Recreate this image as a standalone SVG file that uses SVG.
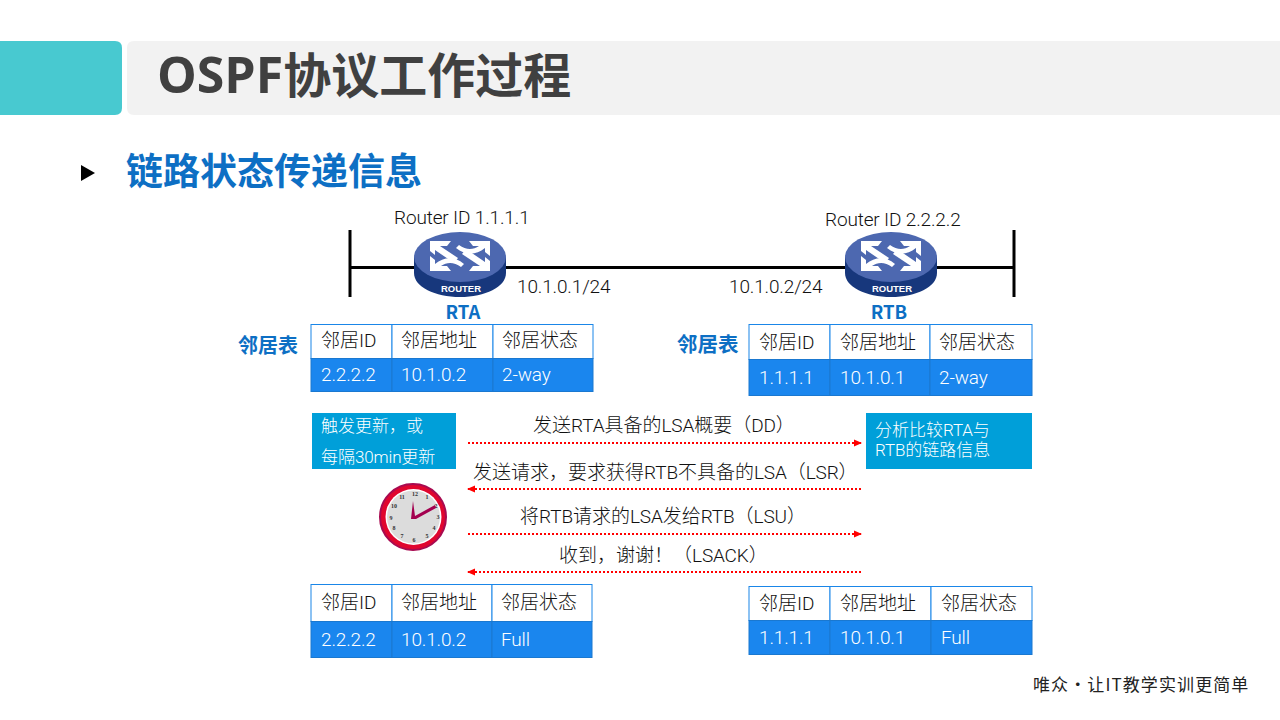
<svg xmlns="http://www.w3.org/2000/svg" xmlns:xlink="http://www.w3.org/1999/xlink" width="1280" height="720" viewBox="0 0 1280 720">
<style>
text{font-family:Roboto,"Noto Sans CJK SC",sans-serif;fill:#111;font-size:19px;font-weight:300;letter-spacing:-.15px}
tspan{letter-spacing:0}
.title{font-family:"Open Sans","Noto Sans CJK SC",sans-serif;font-size:48px;font-weight:700;fill:#404040;letter-spacing:0}
.h{font-family:"Noto Sans CJK SC",sans-serif;font-size:37px;font-weight:700;fill:#0d6fc4;letter-spacing:0}
.b{font-family:"Noto Sans CJK SC",sans-serif;font-weight:700;fill:#0d6fc4;font-size:20px;letter-spacing:0}
.r{font-size:18.500px}
.w{fill:#fff}
.s{font-size:17px}
.hd{fill:#fff;stroke:#1a86e8;stroke-width:1}
.bd{fill:#1a86ee;stroke:#1a78d0;stroke-width:1}
.box{fill:#009fd9}
.dot{fill:none;stroke:#f00;stroke-width:2;stroke-dasharray:2 2}
.bus{stroke:#000;stroke-width:3;fill:none}
.arr{fill:#fff}
.num{font-family:"Liberation Serif",serif;font-size:6px;font-weight:700;fill:#333;text-anchor:middle;letter-spacing:0}
</style>
<defs>
<marker id="ah" markerUnits="userSpaceOnUse" markerWidth="8" markerHeight="8" refX="7" refY="4" orient="auto"><path d="M0 0.500L8 4L0 7.500Z" fill="#f00"/></marker>
<path id="a1" class="arr" d="M-30 -25H-9L-13 -20H-20L-2 -8L-6 -3L-25 -16V-11L-30 -15Z"/>
<path id="a2" class="arr" d="M30 -25V-10L25 -14V-18C16 -11 6 -10 -4 -18L-1 -21C6 -16 13 -16 19 -20H13L9 -25Z"/>
<g id="router">
<path d="M-46 -9V7C-46 21-25 31 0 31S46 21 46 7V-9Z" fill="#17377c"/>
<ellipse cx="0" cy="-9" rx="46" ry="25" fill="#4d68b0"/>
<use xlink:href="#a1" href="#a1"/>
<use xlink:href="#a2" href="#a2"/>
<use xlink:href="#a1" href="#a1" transform="rotate(180 0 -10)"/>
<use xlink:href="#a2" href="#a2" transform="rotate(180 0 -10)"/>
<text x="1" y="26" text-anchor="middle" style="font-family:'Liberation Sans',sans-serif;font-size:9.500px;font-weight:700;fill:#fff;letter-spacing:0">ROUTER</text>
</g>
</defs>

<g id="header">
<path d="M0 41H115Q122 41 122 48V108Q122 115 115 115H0Z" fill="#48c9d0"/>
<path d="M1280 41H134Q127 41 127 48V108Q127 115 134 115H1280Z" fill="#f2f2f2"/>
<text class="title" x="157" y="93"><tspan style="font-size:50px">OSPF</tspan>协议工作过程</text>
</g>
<g id="heading">
<path d="M81 165L95 173L81 181Z" fill="#000"/>
<text class="h" x="126" y="185">链路状态传递信息</text>
</g>

<g id="connectors">
<path class="bus" d="M350 230V297M1014 230V297M350 267.500H1014"/>
<path class="dot" d="M468 443H861" marker-end="url(#ah)"/>
<path class="dot" d="M861 489H468" marker-end="url(#ah)"/>
<path class="dot" d="M468 534H861" marker-end="url(#ah)"/>
<path class="dot" d="M861 572H468" marker-end="url(#ah)"/>
</g>

<g id="rta">
<use xlink:href="#router" href="#router" x="460" y="266"/>
<text x="394" y="224">Router ID 1.1.1.1</text>
<text class="b r" x="463" y="319" text-anchor="middle">RTA</text>
</g>
<g id="rtb">
<use xlink:href="#router" href="#router" x="891" y="266"/>
<text x="825" y="226">Router ID 2.2.2.2</text>
<text class="b r" x="889" y="319" text-anchor="middle">RTB</text>
</g>
<g id="ip-labels">
<text x="517" y="293">10.1.0.1/24</text>
<text x="729" y="293">10.1.0.2/24</text>
</g>

<g id="table-a1">
<text class="b" x="238" y="353">邻居表</text>
<rect class="hd" x="311" y="324.500" width="81" height="34"/><rect class="hd" x="392" y="324.500" width="101" height="34"/><rect class="hd" x="493" y="324.500" width="100" height="34"/>
<rect class="bd" x="311" y="358.500" width="81" height="33"/><rect class="bd" x="392" y="358.500" width="101" height="33"/><rect class="bd" x="493" y="358.500" width="100" height="33"/>
<text x="321" y="347"><tspan>邻居</tspan>ID</text><text x="401" y="347"><tspan>邻居地址</tspan></text><text x="502" y="347"><tspan>邻居状态</tspan></text>
<text class="w" x="321" y="381">2.2.2.2</text><text class="w" x="401" y="381">10.1.0.2</text><text class="w" x="502" y="381">2-way</text>
</g>
<g id="table-b1">
<text class="b" x="677" y="352" style="font-size:20.500px">邻居表</text>
<rect class="hd" x="749" y="324.500" width="81" height="35"/><rect class="hd" x="830" y="324.500" width="100" height="35"/><rect class="hd" x="930" y="324.500" width="102" height="35"/>
<rect class="bd" x="749" y="359.500" width="81" height="36"/><rect class="bd" x="830" y="359.500" width="100" height="36"/><rect class="bd" x="930" y="359.500" width="102" height="36"/>
<text x="759" y="349"><tspan>邻居</tspan>ID</text><text x="840" y="349"><tspan>邻居地址</tspan></text><text x="939" y="349"><tspan>邻居状态</tspan></text>
<text class="w" x="759" y="384">1.1.1.1</text><text class="w" x="840" y="384">10.1.0.1</text><text class="w" x="939" y="384">2-way</text>
</g>

<g id="trigger">
<rect class="box" x="312" y="413" width="144" height="56"/>
<text class="w s" x="321" y="432"><tspan>触发更新，或</tspan></text>
<text class="w s" x="321" y="463"><tspan>每隔</tspan>30min<tspan>更新</tspan></text>
</g>
<g id="analyze">
<rect class="box" x="866" y="413" width="166" height="56"/>
<text class="w s" x="875" y="436"><tspan>分析比较</tspan>RTA<tspan>与</tspan></text>
<text class="w s" x="875" y="456">RTB<tspan>的链路信息</tspan></text>
</g>

<g id="messages">
<text x="533" y="432"><tspan>发送</tspan>RTA<tspan>具备的</tspan>LSA<tspan>概要（</tspan>DD<tspan>）</tspan></text>
<text x="473" y="479"><tspan>发送请求，要求获得</tspan>RTB<tspan>不具备的</tspan>LSA<tspan>（</tspan>LSR<tspan>）</tspan></text>
<text x="520" y="523"><tspan>将</tspan>RTB<tspan>请求的</tspan>LSA<tspan>发给</tspan>RTB<tspan>（</tspan>LSU<tspan>）</tspan></text>
<text x="559" y="562"><tspan>收到，谢谢！（</tspan>LSACK<tspan>）</tspan></text>
</g>

<g id="clock">
<circle cx="413" cy="517" r="33" fill="#e0062f" stroke="#a80a50" stroke-width="2"/>
<circle cx="413.500" cy="517" r="28" fill="#fff"/>
<circle cx="413.500" cy="517" r="26.500" fill="#dcdcdc"/>
<text class="num" x="415" y="496">12</text><text class="num" x="427" y="499">1</text><text class="num" x="436" y="508">2</text><text class="num" x="438" y="519">3</text><text class="num" x="434" y="530">4</text><text class="num" x="427" y="538">5</text><text class="num" x="414" y="542">6</text><text class="num" x="402" y="538">7</text><text class="num" x="394" y="530">8</text><text class="num" x="391" y="520">9</text><text class="num" x="394" y="508">10</text><text class="num" x="402" y="499">11</text>
<path d="M413 501L415 516L435 505L436 508L416 519L411 519Z" fill="#a3004f"/>
</g>

<g id="table-a2">
<rect class="hd" x="311" y="584.500" width="81" height="37"/><rect class="hd" x="392" y="584.500" width="100" height="37"/><rect class="hd" x="492" y="584.500" width="100" height="37"/>
<rect class="bd" x="311" y="621.500" width="81" height="36"/><rect class="bd" x="392" y="621.500" width="100" height="36"/><rect class="bd" x="492" y="621.500" width="100" height="36"/>
<text x="321" y="609"><tspan>邻居</tspan>ID</text><text x="401" y="609"><tspan>邻居地址</tspan></text><text x="501" y="609"><tspan>邻居状态</tspan></text>
<text class="w" x="321" y="646">2.2.2.2</text><text class="w" x="401" y="646">10.1.0.2</text><text class="w" x="501" y="646">Full</text>
</g>
<g id="table-b2">
<rect class="hd" x="749" y="586.500" width="81" height="34"/><rect class="hd" x="830" y="586.500" width="101" height="34"/><rect class="hd" x="931" y="586.500" width="101" height="34"/>
<rect class="bd" x="749" y="620.500" width="81" height="34"/><rect class="bd" x="830" y="620.500" width="101" height="34"/><rect class="bd" x="931" y="620.500" width="101" height="34"/>
<text x="759" y="610"><tspan>邻居</tspan>ID</text><text x="840" y="610"><tspan>邻居地址</tspan></text><text x="941" y="610"><tspan>邻居状态</tspan></text>
<text class="w" x="759" y="644">1.1.1.1</text><text class="w" x="840" y="644">10.1.0.1</text><text class="w" x="941" y="644">Full</text>
</g>

<g id="footer">
<text x="1033" y="691" style="font-family:'Noto Sans CJK SC',sans-serif;font-size:17px;letter-spacing:1.100px;fill:#222;font-weight:400">唯众•让IT教学实训更简单</text>
</g>
</svg>
